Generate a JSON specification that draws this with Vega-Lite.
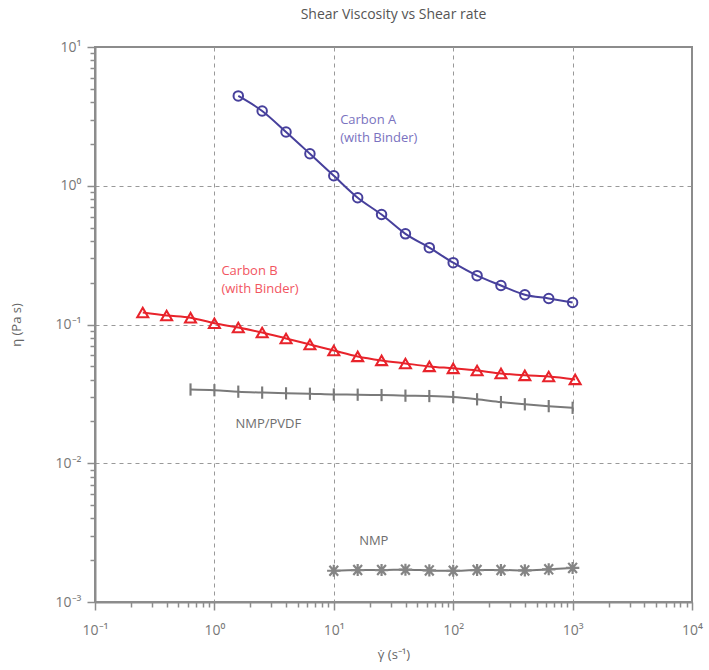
{
  "$schema": "https://vega.github.io/schema/vega-lite/v6.json",
  "width": 597,
  "height": 555,
  "autosize": {"type": "none"},
  "padding": {"left": 95, "top": 47, "right": 17, "bottom": 68},
  "title": {"text": "Shear Viscosity vs Shear rate", "font": "Open Sans", "fontSize": 14, "fontWeight": "normal", "color": "#555555", "offset": 18, "anchor": "middle"},
  "config": {
    "font": "Open Sans",
    "view": {"stroke": "#8c8c8c", "strokeWidth": 2},
    "axis": {
      "domainColor": "#8c8c8c", "domainWidth": 2,
      "tickColor": "#8c8c8c", "tickWidth": 1.5,
      "labelFont": "Open Sans", "labelFontSize": 14, "labelColor": "#777777",
      "titleFont": "Open Sans", "titleFontSize": 13, "titleFontWeight": "normal", "titleColor": "#666666",
      "gridColor": "#999999", "gridDash": [4, 4], "gridWidth": 1
    }
  },
  "datasets": {
    "pts": [
      {"series": "A", "rate": 1.585, "visc": 4.44},
      {"series": "A", "rate": 2.512, "visc": 3.46},
      {"series": "A", "rate": 3.981, "visc": 2.44},
      {"series": "A", "rate": 6.31, "visc": 1.70},
      {"series": "A", "rate": 10, "visc": 1.18},
      {"series": "A", "rate": 15.85, "visc": 0.82},
      {"series": "A", "rate": 25.12, "visc": 0.62},
      {"series": "A", "rate": 39.81, "visc": 0.45},
      {"series": "A", "rate": 63.1, "visc": 0.358},
      {"series": "A", "rate": 100, "visc": 0.279},
      {"series": "A", "rate": 158.5, "visc": 0.225},
      {"series": "A", "rate": 251.2, "visc": 0.191},
      {"series": "A", "rate": 398.1, "visc": 0.164},
      {"series": "A", "rate": 631, "visc": 0.154},
      {"series": "A", "rate": 1000, "visc": 0.144},
      {"series": "B", "rate": 0.2512, "visc": 0.122},
      {"series": "B", "rate": 0.3981, "visc": 0.116},
      {"series": "B", "rate": 0.631, "visc": 0.112},
      {"series": "B", "rate": 1, "visc": 0.102},
      {"series": "B", "rate": 1.585, "visc": 0.095},
      {"series": "B", "rate": 2.512, "visc": 0.0875},
      {"series": "B", "rate": 3.981, "visc": 0.0793},
      {"series": "B", "rate": 6.31, "visc": 0.0718},
      {"series": "B", "rate": 10, "visc": 0.065},
      {"series": "B", "rate": 15.85, "visc": 0.0589},
      {"series": "B", "rate": 25.12, "visc": 0.0551},
      {"series": "B", "rate": 39.81, "visc": 0.0524},
      {"series": "B", "rate": 63.1, "visc": 0.0499},
      {"series": "B", "rate": 100, "visc": 0.0483},
      {"series": "B", "rate": 158.5, "visc": 0.0466},
      {"series": "B", "rate": 251.2, "visc": 0.0444},
      {"series": "B", "rate": 398.1, "visc": 0.043},
      {"series": "B", "rate": 631, "visc": 0.0422},
      {"series": "B", "rate": 1050, "visc": 0.0402},
      {"series": "P", "rate": 0.631, "visc": 0.034},
      {"series": "P", "rate": 1, "visc": 0.0336},
      {"series": "P", "rate": 1.585, "visc": 0.0328},
      {"series": "P", "rate": 2.512, "visc": 0.0323},
      {"series": "P", "rate": 3.981, "visc": 0.0319},
      {"series": "P", "rate": 6.31, "visc": 0.0317},
      {"series": "P", "rate": 10, "visc": 0.0313},
      {"series": "P", "rate": 15.85, "visc": 0.0312},
      {"series": "P", "rate": 25.12, "visc": 0.031},
      {"series": "P", "rate": 39.81, "visc": 0.0307},
      {"series": "P", "rate": 63.1, "visc": 0.0305},
      {"series": "P", "rate": 100, "visc": 0.03},
      {"series": "P", "rate": 158.5, "visc": 0.0289},
      {"series": "P", "rate": 251.2, "visc": 0.0276},
      {"series": "P", "rate": 398.1, "visc": 0.0266},
      {"series": "P", "rate": 631, "visc": 0.0258},
      {"series": "P", "rate": 1000, "visc": 0.0251},
      {"series": "N", "rate": 10, "visc": 0.00168},
      {"series": "N", "rate": 15.85, "visc": 0.0017},
      {"series": "N", "rate": 25.12, "visc": 0.0017},
      {"series": "N", "rate": 39.81, "visc": 0.00171},
      {"series": "N", "rate": 63.1, "visc": 0.00169},
      {"series": "N", "rate": 100, "visc": 0.00168},
      {"series": "N", "rate": 158.5, "visc": 0.0017},
      {"series": "N", "rate": 251.2, "visc": 0.0017},
      {"series": "N", "rate": 398.1, "visc": 0.00169},
      {"series": "N", "rate": 631, "visc": 0.00172},
      {"series": "N", "rate": 1000, "visc": 0.00176}
    ],
    "labels": [
      {"text": "Carbon A", "rate": 11.3, "visc": 2.98, "series": "A"},
      {"text": "(with Binder)", "rate": 11.3, "visc": 2.21, "series": "A"},
      {"text": "Carbon B", "rate": 1.145, "visc": 0.245, "series": "B"},
      {"text": "(with Binder)", "rate": 1.145, "visc": 0.1815, "series": "B"},
      {"text": "NMP/PVDF", "rate": 1.5, "visc": 0.0191, "series": "P"},
      {"text": "NMP", "rate": 16.3, "visc": 0.00275, "series": "N"}
    ]
  },
  "layer": [
    {
      "data": {"name": "pts"},
      "mark": {"type": "line", "interpolate": "monotone", "strokeWidth": 2},
      "encoding": {
        "x": {
          "field": "rate", "type": "quantitative",
          "scale": {"type": "log", "domain": [0.1, 10000], "nice": false},
          "axis": {
            "title": "\u03b3\u0307 (s\u207b\u00b9)",
            "titlePadding": 11,
            "values": [0.1,0.2,0.3,0.4,0.5,0.6,0.7,0.8,0.9,1,2,3,4,5,6,7,8,9,10,20,30,40,50,60,70,80,90,100,200,300,400,500,600,700,800,900,1000,2000,3000,4000,5000,6000,7000,8000,9000,10000],
            "labelExpr": "abs(log(datum.value)/LN10 - round(log(datum.value)/LN10)) > 0.001 ? '' : (round(log(datum.value)/LN10) == -1 ? '10\u207b\u00b9' : round(log(datum.value)/LN10) == 0 ? '10\u2070' : round(log(datum.value)/LN10) == 1 ? '10\u00b9' : round(log(datum.value)/LN10) == 2 ? '10\u00b2' : round(log(datum.value)/LN10) == 3 ? '10\u00b3' : '10\u2074')",
            "labelPadding": 13,
            "labelFlush": false,
            "labelOverlap": false,
            "tickSize": {"condition": {"test": "abs(log(datum.value)/LN10 - round(log(datum.value)/LN10)) < 0.001", "value": 8}, "value": 5},
            "grid": true,
            "gridOpacity": {"condition": {"test": "abs(log(datum.value)/LN10 - round(log(datum.value)/LN10)) < 0.001 && datum.value > 0.5 && datum.value < 5000", "value": 1}, "value": 0}
          }
        },
        "y": {
          "field": "visc", "type": "quantitative",
          "scale": {"type": "log", "domain": [0.001, 10], "nice": false},
          "axis": {
            "title": "\u03b7 (Pa s)",
            "titlePadding": 32,
            "values": [0.001,0.002,0.003,0.004,0.005,0.006,0.007,0.008,0.009,0.01,0.02,0.03,0.04,0.05,0.06,0.07,0.08,0.09,0.1,0.2,0.3,0.4,0.5,0.6,0.7,0.8,0.9,1,2,3,4,5,6,7,8,9,10],
            "labelExpr": "abs(log(datum.value)/LN10 - round(log(datum.value)/LN10)) > 0.001 ? '' : (round(log(datum.value)/LN10) == -3 ? '10\u207b\u00b3' : round(log(datum.value)/LN10) == -2 ? '10\u207b\u00b2' : round(log(datum.value)/LN10) == -1 ? '10\u207b\u00b9' : round(log(datum.value)/LN10) == 0 ? '10\u2070' : '10\u00b9')",
            "labelPadding": 6,
            "labelFlush": false,
            "labelOverlap": false,
            "tickSize": {"condition": {"test": "abs(log(datum.value)/LN10 - round(log(datum.value)/LN10)) < 0.001", "value": 8}, "value": 5},
            "grid": true,
            "gridOpacity": {"condition": {"test": "abs(log(datum.value)/LN10 - round(log(datum.value)/LN10)) < 0.001 && datum.value > 0.005 && datum.value < 5", "value": 1}, "value": 0}
          }
        },
        "color": {
          "field": "series", "type": "nominal",
          "scale": {"domain": ["A", "B", "P", "N"], "range": ["#47409c", "#e8232b", "#7a7a7a", "#7a7a7a"]},
          "legend": null
        },
        "detail": {"field": "series"}
      }
    },
    {
      "data": {"name": "pts"},
      "mark": {"type": "point", "filled": false, "opacity": 1},
      "encoding": {
        "x": {"field": "rate", "type": "quantitative"},
        "y": {"field": "visc", "type": "quantitative"},
        "color": {
          "field": "series", "type": "nominal",
          "scale": {"domain": ["A", "B", "P", "N"], "range": ["#47409c", "#e8232b", "#7a7a7a", "#858585"]},
          "legend": null
        },
        "shape": {
          "field": "series", "type": "nominal",
          "scale": {"domain": ["A", "B", "P", "N"], "range": ["circle", "triangle-up", "M0,-1L0,1", "M-1,0L1,0M-0.65,-0.75L0.65,0.75M-0.65,0.75L0.65,-0.75M0,-0.9L0,0.9"]},
          "legend": null
        },
        "size": {
          "field": "series", "type": "nominal",
          "scale": {"domain": ["A", "B", "P", "N"], "range": [90, 180, 130, 200]},
          "legend": null
        },
        "strokeWidth": {
          "field": "series", "type": "nominal",
          "scale": {"domain": ["A", "B", "P", "N"], "range": [2, 2.2, 1.6, 1.8]},
          "legend": null
        }
      }
    },
    {
      "data": {"name": "labels"},
      "mark": {"type": "text", "align": "left", "baseline": "middle", "fontSize": 13, "font": "Open Sans"},
      "encoding": {
        "x": {"field": "rate", "type": "quantitative"},
        "y": {"field": "visc", "type": "quantitative"},
        "text": {"field": "text"},
        "color": {
          "field": "series", "type": "nominal",
          "scale": {"domain": ["A", "B", "P", "N"], "range": ["#7a72c0", "#f2555f", "#6e6e6e", "#6e6e6e"]},
          "legend": null
        }
      }
    }
  ],
  "resolve": {"scale": {"color": "independent"}}
}
